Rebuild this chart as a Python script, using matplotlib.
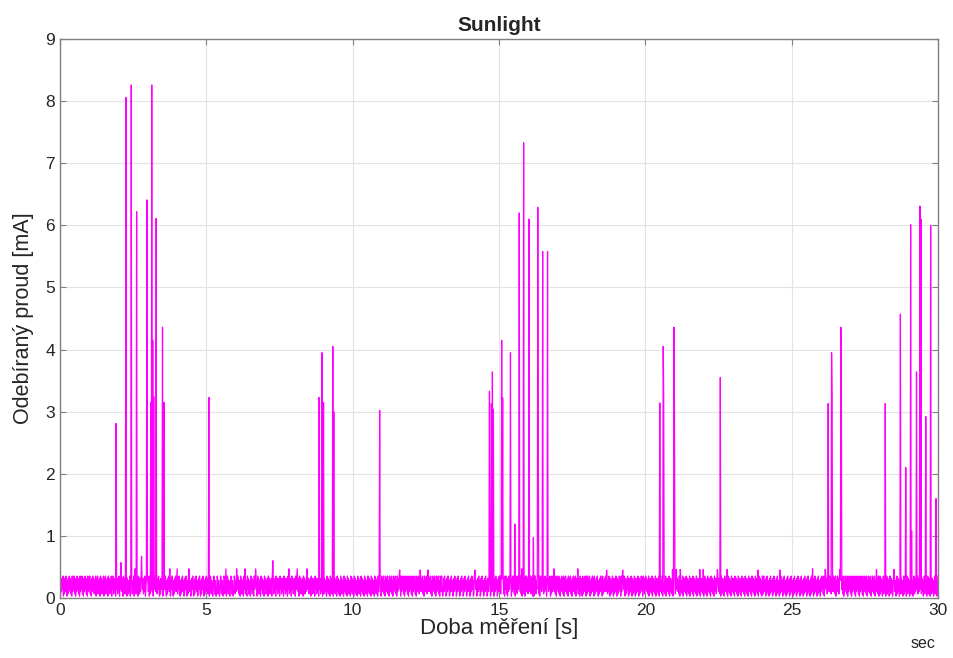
"""
Sunlight: odebíraný proud v čase (30 s záznam), styl podobný MATLABu.
"""

import numpy as np
import matplotlib
matplotlib.use("Agg")
import matplotlib.pyplot as plt

plt.rcParams["font.family"] = ["Liberation Sans", "DejaVu Sans"]

# klidový proud: číslice 0-9 -> 0.03 .. 0.35 mA (odečteno jako pás šumu)
BASE_DIGITS = (
    "917283907182930718293817092839170829381709283917082938170928"
    "391708293817290839172809381729083917280938172908391728093817"
    "290831728093817290831729083817290938172809318270938172903817"
    "829071839270183920718392071839207183920718392701839207183927"
    "018392071839270183920718392701839207183927018392071839207183"
    "928172039817203981720398172039817203981720398172039817203981"
    "720398172093817209381720938172093817209381720938172093817209"
    "381728093817280938172809381728093817280938172809381728093817"
    "280938172809381728093817280938172809381728093817280938172809"
    "918273092817309281730928173092817309281730928173092817309281"
    "730928173092817309281730928173092817309281730928173092817309"
    "283917092839170928391709283917092839170928391709283917092839"
    "170928391709283917092839170928391709283917092839170928391709"
    "829301829370182937018293701829370182937018293701829370182937"
    "018293701829370182937018293701829370182937018293701829370182"
    "929190829180939170829391808293917092819380929170839180929381"
    "709291839080929173928190839270918293807192839081928372918093"
    "829180739281908293718092839170829381902839178092830917829309"
    "192839071829380917283920718293809172839208172930817293081729"
    "308172938092817392081739208172930817293081729308172938092817"
    "938271903827190382719038271903827190382719038271903827190382"
    "719038271903827190382719038271903827190382719038271903827190"
    "392817093281709328170932817093281709328170932817093281709328"
    "170932817093281709328170932817093281709328170932817093281709"
    "819273081927308192730819273081927308192730819273081927308192"
    "730819273081927308192730819273081927308192730819273081927308"
    "293819072938190729381907293819072938190729381907293819072938"
    "190729381907293819072938190729381907293819072938190729381907"
    "918270391827039182703918270391827039182703918270391827039182"
    "703918270391827039182703918270391827039182703918270391827039"
)
BASE_LEVEL_MIN = 0.03
BASE_LEVEL_STEP = 0.036

# špičky proudu: čas [s], hodnota [mA]
SPIKE_T = [1.91, 2.08, 2.25, 2.44, 2.57, 2.61, 2.79, 2.97, 3.10, 3.13, 3.17, 3.21,
           3.29, 3.51, 3.55, 3.76, 4.00, 4.40, 5.08, 5.67, 6.04, 6.32, 6.69, 7.27,
           7.82, 8.10, 8.44, 8.85, 8.95, 9.00, 9.33, 9.36, 10.93, 11.60, 12.30,
           12.57, 14.18, 14.67, 14.74, 14.78, 14.80, 15.10, 15.12, 15.39, 15.55,
           15.69, 15.77, 15.85, 16.03, 16.18, 16.33, 16.35, 16.49, 16.66, 16.87,
           17.70, 18.68, 19.22, 20.50, 20.61, 20.63, 20.93, 20.97, 21.00, 21.07,
           21.20, 21.87, 21.98, 22.46, 22.56, 22.80, 23.85, 24.60, 25.71, 26.15,
           26.25, 26.36, 26.38, 26.65, 26.68, 26.70, 27.90, 28.20, 28.50, 28.72,
           28.90, 29.06, 29.10, 29.27, 29.39, 29.42, 29.59, 29.75, 29.93]
SPIKE_V = [2.81, 0.57, 8.06, 8.26, 0.47, 6.22, 0.67, 6.41, 3.15, 8.26, 4.15, 3.24,
           6.11, 4.36, 3.15, 0.47, 0.47, 0.47, 3.23, 0.47, 0.47, 0.47, 0.47, 0.60,
           0.47, 0.47, 0.47, 3.23, 3.95, 3.15, 4.05, 3.00, 3.02, 0.45, 0.45,
           0.45, 0.45, 3.33, 3.13, 3.64, 3.04, 4.15, 3.22, 3.95, 1.19,
           6.20, 0.47, 7.33, 6.10, 0.97, 6.29, 2.60, 5.58, 5.58, 0.47,
           0.47, 0.45, 0.45, 3.14, 4.05, 3.23, 0.46, 4.36, 3.12, 0.46,
           0.46, 0.46, 0.46, 0.46, 3.55, 0.46, 0.45, 0.45, 0.47, 0.46,
           3.13, 3.95, 3.23, 0.46, 4.36, 3.22, 0.46, 3.13, 0.46, 4.57,
           2.10, 6.01, 1.08, 3.64, 6.31, 6.10, 2.92, 6.00, 1.60]

X_TICKS = [0, 5, 10, 15, 20, 25, 30]
Y_TICKS = [0, 1, 2, 3, 4, 5, 6, 7, 8, 9]

# sestavení průběhu
current = BASE_LEVEL_MIN + BASE_LEVEL_STEP * np.array([int(c) for c in BASE_DIGITS], float)
n = len(current)
t = np.linspace(0, 30, n)
for ts, vs in zip(SPIKE_T, SPIKE_V):
    i = int(round(ts / 30 * (n - 1)))
    current[i] = max(current[i], vs)

TXT = "#262626"
fig = plt.figure(figsize=(9.54, 6.58), dpi=100)
ax = fig.add_axes([0.0629, 0.0912, 0.9203, 0.8495])
ax.plot(t, current, color="#ff00ff", linewidth=0.9)

ax.set_xlim(0, 30)
ax.set_ylim(0, 9)
ax.set_xticks(X_TICKS)
ax.set_yticks(Y_TICKS)
ax.grid(True, color="#e3e3e3", linewidth=0.8)
ax.set_axisbelow(True)
ax.tick_params(direction="in", length=4, width=0.8, colors="#808080",
               labelcolor=TXT, labelsize=12.5, top=True, right=True)
for s in ax.spines.values():
    s.set_color("#808080")
    s.set_linewidth(1.0)

ax.set_title("Sunlight", fontsize=15, fontweight="bold", color=TXT, pad=6)
ax.set_xlabel("Doba měření [s]", fontsize=16, color=TXT, labelpad=0)
ax.set_ylabel("Odebíraný proud [mA]", fontsize=15.5, color=TXT, labelpad=8)
fig.text(0.968, 0.010, "sec", fontsize=11.5, color=TXT, ha="center", va="bottom")

fig.savefig("out.png", dpi=100)
